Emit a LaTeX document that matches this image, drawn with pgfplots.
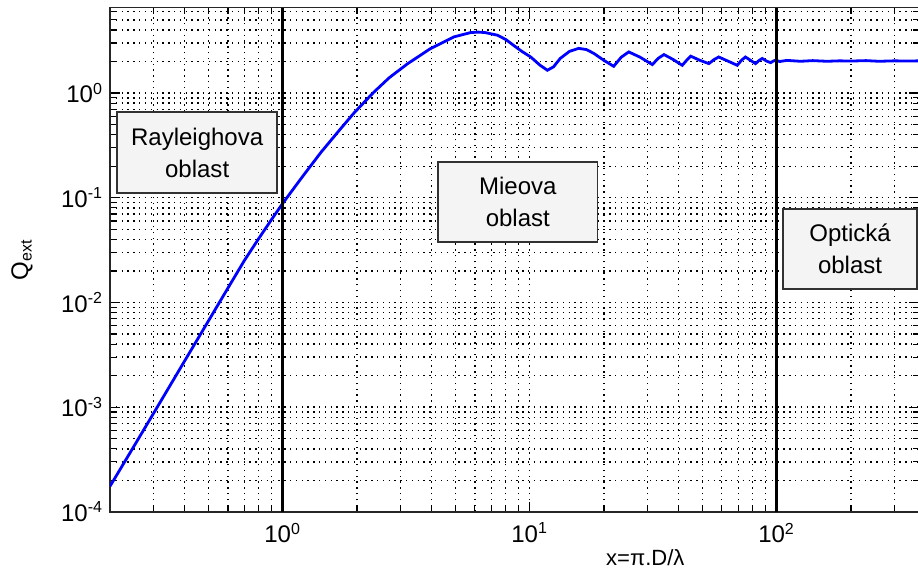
\documentclass[border=0pt]{standalone}
\usepackage{fontspec}
\setmainfont{Liberation Sans}
\usepackage{pgfplots}
\pgfplotsset{compat=1.18}
\definecolor{boxfill}{RGB}{244,244,244}
\definecolor{boxdraw}{RGB}{50,50,50}
\begin{document}
\begin{tikzpicture}
\begin{axis}[
  scale only axis, width=404pt, height=252pt,
  xmode=log, ymode=log,
  xmin=0.2, xmax=376, ymin=1e-4, ymax=6.56,
  xtick={1,10,100},
  xticklabels={10\textsuperscript{0},10\textsuperscript{1},10\textsuperscript{2}},
  ytick={1e-4,1e-3,1e-2,1e-1,1},
  yticklabels={10\textsuperscript{-4},10\textsuperscript{-3},10\textsuperscript{-2},10\textsuperscript{-1},10\textsuperscript{0}},
  minor xtick={0.2,0.3,0.4,0.5,0.6,0.7,0.8,0.9,2,3,4,5,6,7,8,9,20,30,40,50,60,70,80,90,200,300},
  minor ytick={2e-4,3e-4,4e-4,5e-4,6e-4,7e-4,8e-4,9e-4,2e-3,3e-3,4e-3,5e-3,6e-3,7e-3,8e-3,9e-3,2e-2,3e-2,4e-2,5e-2,6e-2,7e-2,8e-2,9e-2,0.2,0.3,0.4,0.5,0.6,0.7,0.8,0.9,2,3,4,5,6},
  grid=both,
  major grid style={black, line width=0.7pt, dash pattern=on 0.7pt off 2.2pt},
  minor grid style={black, line width=0.7pt, dash pattern=on 0.7pt off 2.2pt},
  tick align=inside,
  major tick length=5pt, minor tick length=3pt,
  tick style={black, line width=0.6pt},
  axis line style={line width=0.9pt, black!85},
  tick label style={font=\fontsize{12}{14}\selectfont},
  xticklabel style={yshift=-2pt},
  every axis x label/.style={at={(axis description cs:0.662,-0.091)}, anchor=center, font=\fontsize{11}{13}\selectfont},
  every axis y label/.style={at={(axis description cs:-0.109,0.5)}, rotate=90, anchor=center, font=\fontsize{12}{14}\selectfont},
  xlabel={x=π.D/λ},
  ylabel={Q\textsubscript{ext}},
]
\addplot[blue, line width=1.4pt] table {
x y
0.2 1.76e-4
0.25 4.24e-4
0.3 8.73e-4
0.35 1.61e-3
0.4 2.74e-3
0.5 6.64e-3
0.6 1.37e-2
0.7 2.52e-2
0.8 4.08e-2
0.9 6.16e-2
1.0 8.83e-2
1.2 0.158
1.43 0.272
1.7 0.444
1.95 0.65
2.34 1.02
2.7 1.40
3.2 1.9
3.97 2.66
4.94 3.44
5.77 3.78
6.2 3.82
6.6 3.78
7.4 3.57
8.0 3.25
8.6 2.86
9.3 2.50
10.1 2.21
11.0 1.85
11.8 1.65
12.5 1.78
13.3 2.14
14.5 2.5
15.8 2.67
17.0 2.6
18.2 2.39
20.0 2.05
21.9 1.80
23.5 2.2
25.2 2.47
28.0 2.2
31.4 1.87
33.2 2.15
35.0 2.33
38.0 2.1
41.5 1.84
43.2 2.05
44.9 2.25
49 2.05
53.2 1.91
55.7 2.08
58.3 2.21
63.5 2.02
69.3 1.84
72 2.05
74.8 2.21
78.5 2.05
82.2 1.91
85 2.05
87.5 2.14
91 2.02
94.6 1.95
97 2.02
99.1 2.06
103 2.00
110 2.05
125 2.01
140 2.04
160 2.01
180 2.03
200 2.02
230 2.04
260 2.01
300 2.03
340 2.02
376 2.03
};
\addplot[black, line width=1.4pt] coordinates {(1,1e-4) (1,6.56)};
\addplot[black, line width=1.4pt] coordinates {(100,1e-4) (100,6.56)};
\node[draw=boxdraw, fill=boxfill, line width=0.8pt, minimum width=80pt, minimum height=40.5pt, align=center, inner sep=0pt, font=\fontsize{12}{16}\selectfont] at (rel axis cs:0.1077,0.7126) {Rayleighova\\oblast};
\node[draw=boxdraw, fill=boxfill, line width=0.8pt, minimum width=79.5pt, minimum height=40pt, align=center, inner sep=0pt, font=\fontsize{12}{16}\selectfont] at (rel axis cs:0.5043,0.6145) {Mieova\\oblast};
\node[draw=boxdraw, fill=boxfill, line width=0.8pt, minimum width=67pt, minimum height=40pt, align=center, inner sep=0pt, font=\fontsize{12}{16}\selectfont] at (rel axis cs:0.9152,0.5207) {Optická\\oblast};
\end{axis}
\pgfresetboundingbox
\path[use as bounding box] ([shift={(-55pt,-28pt)}]current axis.south west) rectangle ([shift={(-0.3pt,3.75pt)}]current axis.north east);
\end{tikzpicture}
\end{document}
